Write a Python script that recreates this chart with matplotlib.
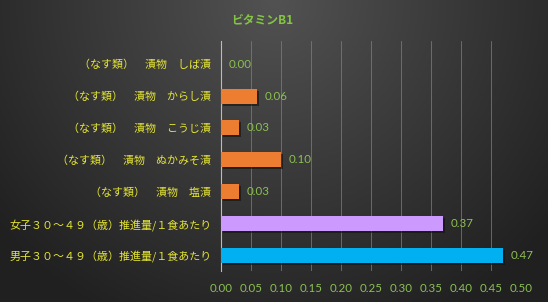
"""Horizontal bar chart: vitamin B1 content vs recommended intake per meal."""
import matplotlib

matplotlib.use("Agg")
import matplotlib.pyplot as plt
import matplotlib.patheffects as pe
import numpy as np

categories = [
    "男子３０～４９（歳）推進量/１食あたり",
    "女子３０～４９（歳）推進量/１食あたり",
    "（なす類）　漬物　塩漬",
    "（なす類）　漬物　ぬかみそ漬",
    "（なす類）　漬物　こうじ漬",
    "（なす類）　漬物　からし漬",
    "（なす類）　漬物　しば漬",
]
values = [0.47, 0.37, 0.03, 0.10, 0.03, 0.06, 0.00]
bar_colors = ["#00b0f0", "#cc99ff", "#ed7d31", "#ed7d31", "#ed7d31", "#ed7d31", "#ed7d31"]
xticks = [0.00, 0.05, 0.10, 0.15, 0.20, 0.25, 0.30, 0.35, 0.40, 0.45, 0.50]
title = "ビタミンB1"

jp = ["Noto Sans CJK JP", "DejaVu Sans"]
num_font = ["Lato", "DejaVu Sans"]
green = "#8cc152"
yellow = "#e6e636"

fig = plt.figure(figsize=(5.48, 3.02), dpi=100)

# background gradient, lighter at top centre
bg = fig.add_axes([0, 0, 1, 1], zorder=-10)
yy, xx = np.mgrid[0:302, 0:548]
d = np.sqrt(((xx - 274) / 330.0) ** 2 + ((yy - 0) / 330.0) ** 2)
shade = np.clip(82 - 46 * d, 32, 82) / 255.0
bg.imshow(np.dstack([shade, shade, shade]), aspect="auto", extent=[0, 1, 0, 1])
bg.axis("off")

ax = fig.add_axes([221 / 548, 1 - 271 / 302, 300 / 548, 230 / 302])
ax.set_facecolor("none")
ypos = np.arange(len(categories))
bars = ax.barh(ypos, values, height=0.47, color=bar_colors, zorder=3)
for b in bars:
    b.set_path_effects([pe.SimplePatchShadow(offset=(1.5, -1.5), shadow_rgbFace="#111111", alpha=0.6), pe.Normal()])

for y, v in zip(ypos, values):
    ax.text(v + 0.012, y, f"{v:.2f}", va="center", ha="left", color=green,
            fontsize=8.3, family=num_font, zorder=4)

ax.set_xlim(0, 0.5)
ax.set_ylim(-0.5, 6.73)
ax.set_xticks(xticks)
ax.set_xticklabels([f"{t:.2f}" for t in xticks], color=green, fontsize=8.3, family=num_font)
ax.set_yticks(ypos)
ax.set_yticklabels(categories, color=yellow, fontsize=7.9, family=jp)
ax.tick_params(length=0, pad=7)
ax.tick_params(axis="x", pad=9)
ax.grid(axis="x", color="#808080", linewidth=0.5, zorder=0)
for s in ["top", "right", "bottom"]:
    ax.spines[s].set_visible(False)
ax.spines["left"].set_color("#bbbbbb")
ax.spines["left"].set_linewidth(0.8)

fig.text(262 / 548, 1 - 20 / 302, title, ha="center", va="center", color="#84c444",
         fontsize=8.5, fontweight="bold", family=jp)

fig.savefig("out.png", dpi=100)
